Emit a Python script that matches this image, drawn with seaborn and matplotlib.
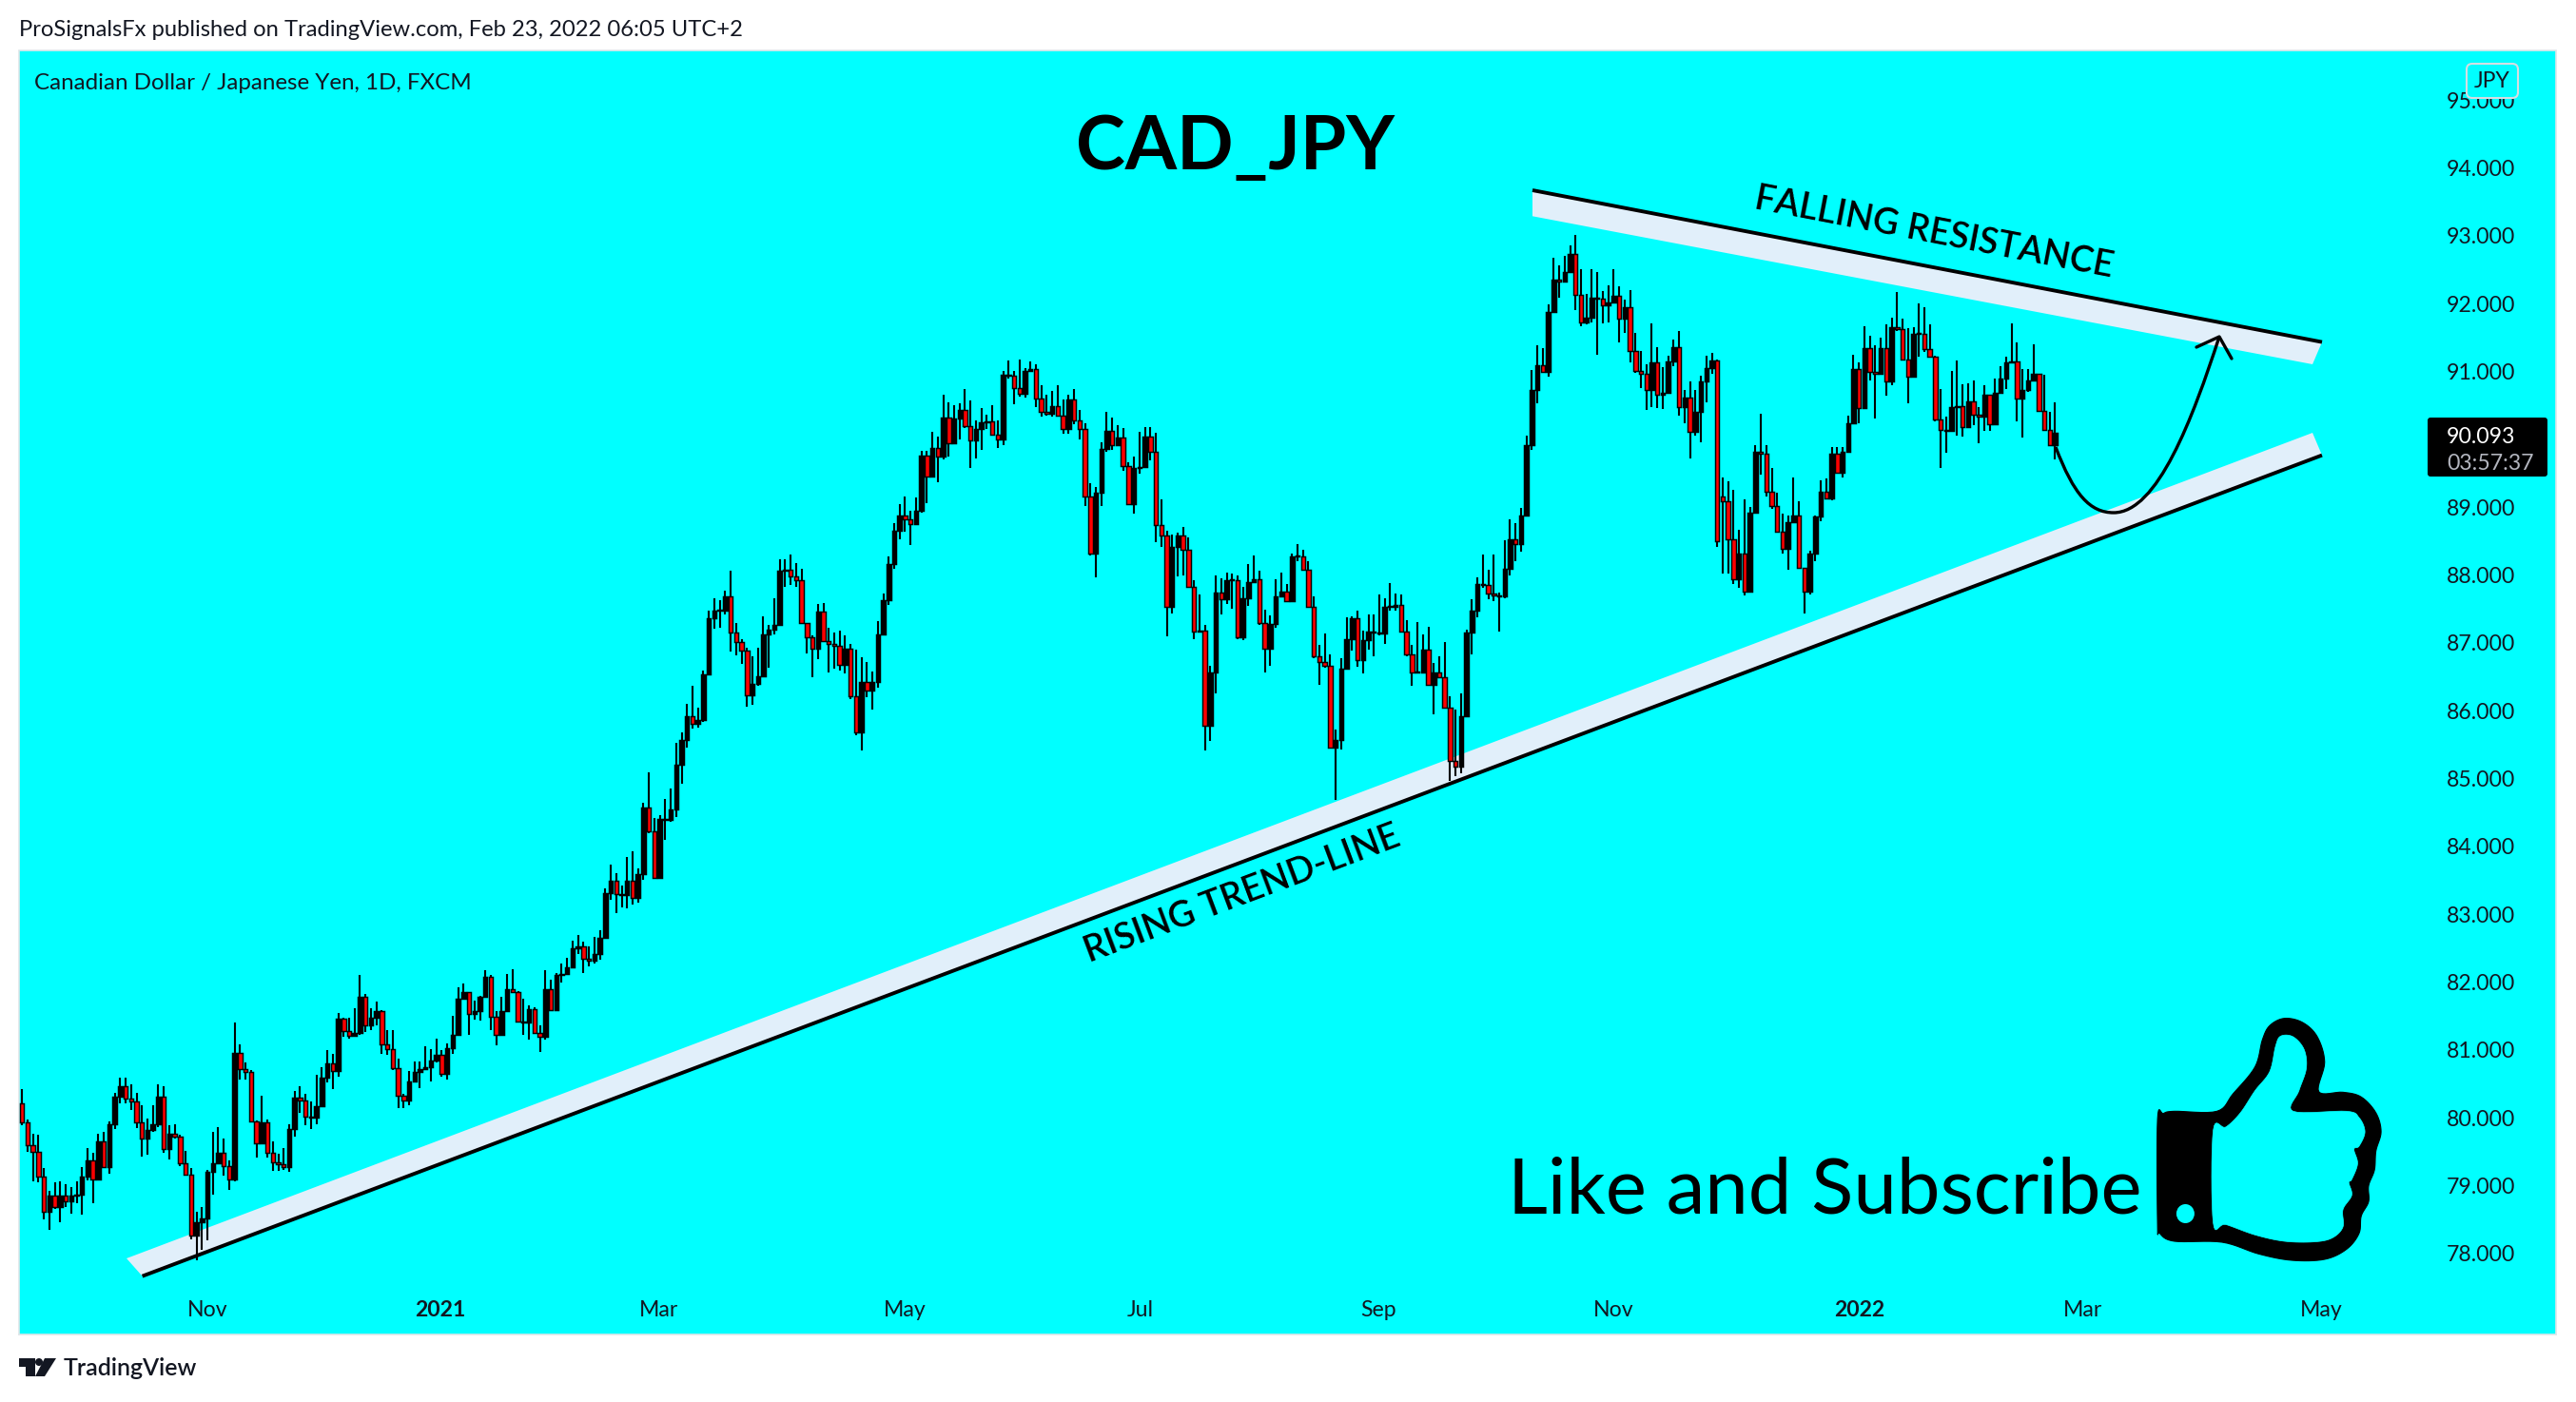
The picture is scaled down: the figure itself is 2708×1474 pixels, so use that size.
import numpy as np
import pandas as pd
import matplotlib
matplotlib.use("Agg")
import matplotlib.pyplot as plt
import seaborn as sns
from matplotlib.patches import Polygon, Ellipse, FancyBboxPatch, Circle, PathPatch
from matplotlib.path import Path
from matplotlib.transforms import Affine2D

closes = [
 79.94,79.60,79.50,79.14,78.62,78.85,78.68,78.85,78.77,78.85,
 78.87,79.13,79.37,79.09,79.66,79.28,79.90,80.31,80.47,80.29,
 80.24,79.94,79.69,79.82,79.90,80.31,79.54,79.77,79.72,79.33,
 79.17,78.27,78.46,78.52,79.20,79.33,79.48,79.29,79.09,80.96,
 80.72,80.67,79.95,79.62,79.93,79.48,79.34,79.32,79.28,79.84,
 80.30,80.26,80.02,80.01,80.17,80.59,80.80,80.69,81.46,81.28,
 81.21,81.25,81.79,81.36,81.47,81.58,81.09,81.01,80.73,80.32,
 80.25,80.53,80.68,80.72,80.75,80.84,80.93,80.65,81.03,81.22,
 81.75,81.86,81.53,81.58,81.78,82.08,81.49,81.22,81.57,81.89,
 81.86,81.42,81.41,81.60,81.25,81.20,81.90,81.59,82.11,82.12,
 82.22,82.50,
 82.53,82.35,82.32,82.41,82.65,83.31,83.50,83.30,83.29,83.50,
 83.24,83.59,84.57,84.22,83.53,84.40,84.39,84.54,85.21,85.57,
 85.92,85.80,85.86,86.53,87.36,87.47,87.48,87.69,87.15,87.01,
 86.88,86.23,86.39,86.51,87.12,87.19,87.27,88.07,88.08,87.98,
 87.92,87.29,87.08,86.91,87.46,87.02,86.98,86.95,86.68,86.92,
 86.22,85.68,86.42,86.30,86.43,87.13,87.63,88.16,88.65,
 88.87,88.82,88.75,88.95,89.76,89.45,89.87,89.74,90.32,89.94,
 90.31,90.43,90.19,89.98,90.15,90.25,90.26,90.07,90.00,90.95,
 90.93,90.75,90.67,91.00,91.04,90.60,90.40,90.38,90.49,90.35,
 90.15,90.58,90.28,90.15,89.15,88.32,89.21,89.86,90.13,89.91,
 90.02,89.61,89.04,89.58,89.59,90.04,89.82,88.73,88.58,87.53,
 88.42,88.58,88.37,87.83,87.17,87.18,85.78,86.57,87.74,87.64,
 87.92,87.92,87.08,87.65,87.89,87.93,87.29,86.91,87.28,87.69,
 87.75,87.61,88.27,88.27,88.08,87.53,86.80,86.72,86.66,85.46,
 85.57,86.62,87.06,87.36,86.75,87.04,87.16,87.15,87.14,87.53,
 87.53,87.56,87.17,86.83,86.57,86.56,86.90,86.38,86.56,86.50,
 86.04,85.26,85.18,85.92,87.15,87.47,87.86,87.85,87.73,87.70,
 87.69,88.09,88.53,88.46,88.88,
 89.92,90.73,91.09,90.99,91.87,92.35,92.33,92.46,92.73,92.13,
 91.72,91.79,92.09,92.07,91.97,92.01,92.12,91.78,91.95,91.30,
 91.00,90.97,90.72,91.13,90.65,90.69,91.14,91.36,90.47,90.62,
 90.11,90.41,90.85,91.05,91.16,88.50,89.09,88.52,87.93,88.31,
 87.76,88.92,89.81,89.79,89.22,89.02,88.64,88.38,88.78,88.88,
 88.11,87.75,88.31,88.86,89.23,89.13,89.79,89.50,89.81,90.23,
 91.03,90.46,91.34,90.99,90.97,91.34,90.85,91.65,91.62,91.17,
 90.92,91.55,91.55,91.33,91.21,90.29,90.14,90.12,90.47,90.49,
 90.18,90.56,90.36,90.33,90.65,90.22,90.69,90.89,91.13,91.15,
 90.60,90.73,90.86,90.96,90.42,90.14,89.92,90.09,
]

highs = [
 80.42,79.97,79.76,79.75,79.26,78.93,79.05,79.07,79.03,78.98,
 79.07,79.28,79.55,79.49,79.77,79.79,79.95,80.37,80.59,80.59,
 80.50,80.37,80.19,79.99,80.18,80.50,80.46,79.89,79.90,79.75,
 79.52,79.26,78.62,78.68,79.24,79.80,79.86,79.70,79.37,81.40,
 81.09,80.82,80.71,79.96,80.32,79.98,79.65,79.47,79.56,79.91,
 80.39,80.46,80.36,80.24,80.64,80.75,81.00,80.94,81.55,81.48,
 81.48,81.62,82.11,81.83,81.62,81.71,81.59,81.29,81.29,80.87,
 80.36,80.69,80.83,80.83,81.06,81.01,81.17,81.00,81.10,81.51,
 81.92,81.98,81.85,81.73,81.80,82.18,82.11,81.57,81.78,82.12,
 82.19,81.87,81.75,81.66,81.63,81.37,82.18,82.04,82.13,82.27,
 82.36,82.61,
 82.69,82.60,82.53,82.67,82.76,83.38,83.73,83.60,83.42,83.85,
 83.93,83.68,84.64,85.09,84.42,84.46,84.70,84.85,85.53,85.68,
 86.10,86.37,86.05,86.59,87.47,87.65,87.63,87.77,88.07,87.29,
 87.06,86.93,86.80,86.93,87.39,87.27,87.65,88.23,88.23,88.30,
 88.18,88.09,87.29,87.11,87.57,87.58,87.22,87.15,87.18,87.11,
 86.98,86.90,86.79,86.72,86.58,87.32,87.72,88.28,88.77,
 89.05,89.16,88.95,89.14,89.83,89.83,90.11,90.04,90.65,90.54,
 90.50,90.53,90.74,90.57,90.28,90.46,90.36,90.50,90.28,91.01,
 91.16,91.01,91.17,91.05,91.14,91.10,90.79,90.66,90.71,90.79,
 90.59,90.66,90.74,90.43,90.24,89.35,89.29,89.96,90.40,90.32,
 90.21,90.16,89.66,89.74,90.11,90.18,90.18,90.10,89.12,88.65,
 88.60,88.63,88.71,88.56,87.92,87.71,87.26,86.66,87.99,87.95,
 88.03,88.02,87.99,87.83,88.16,88.29,88.07,87.49,87.41,87.93,
 88.04,87.87,88.32,88.46,88.37,88.21,87.69,86.97,87.14,86.83,
 85.72,86.77,87.37,87.39,87.48,87.18,87.42,87.42,87.71,87.65,
 87.88,87.73,87.71,87.33,86.97,87.31,87.13,87.24,86.71,86.80,
 87.01,86.22,86.02,86.25,87.20,87.64,87.96,88.30,88.08,88.30,
 87.74,88.51,88.82,88.76,88.99,
 90.05,91.02,91.39,91.34,91.99,92.67,92.56,92.70,92.86,93.01,
 92.50,92.14,92.50,92.47,92.18,92.27,92.50,92.25,92.06,92.20,
 91.56,91.30,91.10,91.71,91.36,91.06,91.23,91.47,91.59,90.72,
 90.85,90.73,90.94,91.23,91.27,91.18,89.43,89.38,89.26,88.66,
 89.12,89.00,89.91,90.37,89.91,89.58,89.21,88.91,88.88,89.43,
 89.08,88.11,88.36,88.87,89.40,89.42,89.89,89.89,89.89,90.35,
 91.25,91.13,91.66,91.52,91.38,91.50,91.70,91.79,92.17,91.78,
 91.64,91.65,92.00,91.94,91.70,91.23,90.74,90.33,91.01,91.16,
 90.81,90.82,90.87,90.47,90.79,90.66,90.89,91.07,91.21,91.71,
 91.43,91.03,91.03,91.40,90.97,90.95,90.40,90.54,
]

lows = [
 79.89,79.50,79.06,79.05,78.51,78.35,78.66,78.46,78.68,78.59,
 78.74,78.57,79.08,78.74,79.09,79.28,79.18,79.84,80.22,80.22,
 80.12,79.85,79.43,79.46,79.79,79.86,79.49,79.39,79.70,79.29,
 79.16,78.21,77.90,78.06,78.20,78.87,79.33,79.15,78.94,79.07,
 80.57,80.57,79.93,79.41,79.61,79.42,79.22,79.22,79.23,79.21,
 79.72,80.07,79.89,79.83,79.91,80.17,80.52,80.42,80.61,81.20,
 81.17,81.20,81.22,81.26,81.30,81.36,80.95,80.93,80.71,80.14,
 80.15,80.19,80.53,80.44,80.71,80.53,80.82,80.61,80.56,80.95,
 81.21,81.74,81.23,81.45,81.44,81.77,81.29,81.07,81.22,81.56,
 81.85,81.41,81.23,81.16,81.24,80.97,81.15,81.57,81.57,81.99,
 82.12,82.22,
 82.41,82.13,82.23,82.28,82.33,82.65,83.21,83.02,83.10,83.09,
 83.15,83.17,83.51,84.19,83.52,83.59,84.10,84.37,84.43,84.92,
 85.45,85.73,85.75,85.83,86.52,87.21,87.22,87.42,86.87,86.81,
 86.69,86.06,86.09,86.37,86.50,86.63,87.13,87.26,87.83,87.85,
 87.83,87.28,86.85,86.50,86.76,87.01,86.57,86.62,86.59,86.55,
 86.17,85.64,85.42,86.20,86.01,86.34,87.11,87.56,88.09,
 88.53,88.64,88.44,88.73,88.92,89.06,89.44,89.36,89.70,89.74,
 89.93,90.00,90.17,89.58,89.72,89.85,90.15,90.07,89.87,89.91,
 90.89,90.52,90.63,90.61,91.00,90.47,90.33,90.35,90.33,90.33,
 90.08,90.08,90.22,90.00,89.02,88.29,87.96,89.02,89.82,89.84,
 89.91,89.54,89.04,88.90,89.49,89.58,89.69,88.49,88.41,87.10,
 87.43,87.98,88.00,87.83,87.06,87.15,85.42,85.55,86.26,87.42,
 87.57,87.50,87.06,87.04,87.55,87.89,87.27,86.57,86.66,87.22,
 87.69,87.60,87.61,88.21,88.07,87.52,86.78,86.38,86.64,85.45,
 84.69,85.43,86.61,86.89,86.65,86.55,86.90,86.80,87.11,86.99,
 87.48,87.48,87.16,86.80,86.37,86.55,86.56,86.37,85.95,86.48,
 86.03,84.96,85.03,85.08,85.91,86.83,87.37,87.81,87.64,87.62,
 87.17,87.66,88.00,88.21,88.35,
 88.88,89.84,90.53,90.99,90.92,91.87,92.08,92.32,92.46,91.90,
 91.66,91.69,91.72,91.25,91.71,91.72,92.04,91.43,91.56,91.13,
 90.98,90.75,90.43,90.47,90.46,90.44,90.68,91.08,90.35,90.24,
 89.71,90.06,89.96,90.54,90.96,88.41,88.02,88.02,87.87,87.81,
 87.70,87.88,88.91,89.48,89.15,88.98,88.63,88.32,88.08,88.76,
 88.10,87.43,87.71,88.20,88.79,89.13,89.10,89.49,89.43,89.80,
 90.23,90.23,90.45,90.86,90.30,90.95,90.64,90.79,91.60,91.16,
 90.53,91.00,91.22,91.28,91.20,90.27,89.57,89.80,90.12,90.05,
 90.04,90.17,90.21,89.94,90.13,90.13,90.22,90.73,90.74,91.12,
 90.27,90.02,90.70,90.85,90.40,90.12,89.90,89.70,
]

first_open = 80.21
open_gap_bar = 312
open_gap_value = 89.16

price_ticks = [78,79,80,81,82,83,84,85,86,87,88,89,90,91,92,93,94,95]
time_positions = [34.0,76.7,116.8,162.0,205.1,248.8,291.9,337.1,378.1,421.8]
time_labels = ["Nov","2021","Mar","May","Jul","Sep","Nov","2022","Mar","May"]

W, H = 2708, 1474
INK = "#131722"
FONT = "Lato"
sns.set_theme(style="white")
plt.rcParams["font.family"] = [FONT, "DejaVu Sans"]

fig = plt.figure(figsize=(W/100, H/100), dpi=100, facecolor="white")
L, R, T, B = 20, 2687, 53.5, 1403
ax = fig.add_axes([L/W, (H-B)/H, (R-L)/W, (B-T)/H])
ax.set_facecolor("#00ffff")
px = Affine2D().scale(1, -1).translate(0, H)   # reference pixel coordinates

opens = [first_open] + closes[:-1]
opens[open_gap_bar] = open_gap_value
df = pd.DataFrame({"bar": np.arange(len(closes)), "open": opens, "close": closes,
                   "high": highs, "low": lows})
df["bottom"] = df[["open", "close"]].min(axis=1)
df["height"] = (df["open"] - df["close"]).abs().clip(lower=0.012)

# drawn bands behind candles
ax.add_patch(Polygon([(133,1323),(149.6,1341.7),(2441,478.6),(2431,455)], closed=True,
                     transform=px, fc="#e1effa", ec="none", zorder=1, clip_on=False))
ax.add_patch(Polygon([(1611,200),(2441,359.6),(2431,383),(1611,227.3)], closed=True,
                     transform=px, fc="#e1effa", ec="none", zorder=1, clip_on=False))
sns.lineplot(x=[149.6,2441], y=[1341.7,478.6], transform=px, color="black", lw=2.8, zorder=1.5,
             ax=ax, estimator=None, sort=False, solid_capstyle="butt")
sns.lineplot(x=[1611,2441], y=[200,359.6], transform=px, color="black", lw=2.8, zorder=1.5,
             ax=ax, estimator=None, sort=False, solid_capstyle="butt")

ax.vlines(df["bar"], df["low"], df["high"], color="black", lw=1.5, zorder=2)
for sub, col in ((df[df["close"] >= df["open"]], "black"), (df[df["close"] < df["open"]], "#ff0000")):
    sns.barplot(data=sub, x="bar", y="height", bottom=sub["bottom"].values, native_scale=True,
                color=col, saturation=1, width=0.78, errorbar=None, edgecolor="black",
                linewidth=1.05, zorder=3, ax=ax)

ax.set_xlim((L-23.2)/5.73, (R-23.2)/5.73)
ax.set_ylim(78-(B-1318)/71.35, 78+(1318-T)/71.35)
ax.set_xlabel(""); ax.set_ylabel("")
ax.grid(False)

ax.yaxis.tick_right()
ax.set_yticks(price_ticks)
ax.set_yticklabels([f"{v:.3f}" for v in price_ticks], fontsize=16.6, color=INK, ha="left")
ax.tick_params(axis="y", length=0, pad=-82.8)
ax.set_xticks(time_positions)
ax.set_xticklabels(time_labels, fontsize=16.6, color=INK)
for lab in ax.get_xticklabels():
    if lab.get_text().isdigit():
        lab.set_fontweight("bold")
ax.tick_params(axis="x", length=0, pad=-25.6)
for s in ax.spines.values():
    s.set_color("#dfe6e9"); s.set_linewidth(1.2)

def txt(x, y, s, **kw):
    kw.setdefault("color", "black")
    kw.setdefault("va", "center")
    kw.setdefault("ha", "left")
    return ax.text(x, y, s, transform=px, clip_on=False, zorder=12, **kw)

# header, footer, legend line
txt(20, 32, "ProSignalsFx published on TradingView.com, Feb 23, 2022 06:05 UTC+2", fontsize=17.1, color=INK)
txt(36, 87, "Canadian Dollar / Japanese Yen, 1D, FXCM", fontsize=17.4, color=INK)
txt(67, 1439, "TradingView", fontsize=18, color=INK, fontweight="semibold")
ax.add_patch(Polygon([(20,1428),(36.6,1428),(36.6,1447),(27,1447),(27,1436.7),(20,1436.7)], closed=True,
                     transform=px, fc=INK, ec="none", clip_on=False))
ax.add_patch(Circle((41,1432), 4, transform=px, fc=INK, ec="none", clip_on=False))
ax.add_patch(Polygon([(47,1428),(59,1428),(47,1447),(37,1447)], closed=True,
                     transform=px, fc=INK, ec="none", clip_on=False))

# annotations
txt(1298, 156, "CAD_JPY", fontsize=56.3, fontweight="bold", ha="center")
txt(2033, 245, "FALLING RESISTANCE", fontsize=27, fontweight="semibold", ha="center",
    rotation=-10.9, rotation_mode="anchor")
txt(1306, 940, "RISING TREND-LINE", fontsize=27, fontweight="semibold", ha="center",
    rotation=20.6, rotation_mode="anchor")
txt(1585, 1253, "Like and Subscribe", fontsize=58.7, va="center")

# forecast curve
verts = [(2161,470),(2180,520),(2197,539),(2222,539),(2268,539),(2305,440),(2333,354)]
codes = [Path.MOVETO, Path.CURVE4, Path.CURVE4, Path.CURVE4, Path.CURVE4, Path.CURVE4, Path.CURVE4]
ax.add_patch(PathPatch(Path(verts, codes), transform=px, fc="none", ec="black", lw=2.4, zorder=6, clip_on=False))
sns.lineplot(x=[2309,2333,2346], y=[365,354,377], transform=px, color="black", lw=2.4, zorder=6,
             ax=ax, estimator=None, sort=False)

# thumb icon
def smooth(pts):
    P = np.array(pts, float)
    out = []
    n = len(P)
    for i in range(n):
        p0, p1, p2, p3 = P[i-1], P[i], P[(i+1) % n], P[(i+2) % n]
        for t in np.linspace(0, 1, 8, endpoint=False):
            out.append(0.5*((2*p1) + (-p0+p2)*t + (2*p0-5*p1+4*p2-p3)*t**2 + (-p0+3*p1-3*p2+p3)*t**3))
    return np.array(out)
def tz(pts):
    S = smooth(pts)
    return np.column_stack([1500+S[:, 0]/1.298, 1000+S[:, 1]/3])
outer = [(1020,505),(1078,505),(1100,450),(1130,365),(1140,280),(1150,235),(1170,212),(1195,225),(1215,270),
         (1225,350),(1217,443),(1250,445),(1275,460),(1295,510),(1302,570),(1295,630),(1293,690),(1285,740),
         (1285,790),(1275,835),(1272,890),(1255,940),(1225,972),(1180,975),(1135,955),(1085,918),(1020,915),
         (1000,890),(997,860),(997,530),(1005,512)]
inner = [(1073,565),(1090,555),(1110,510),(1130,440),(1150,380),(1158,300),(1165,268),(1182,270),(1197,310),
         (1200,370),(1190,440),(1182,505),(1255,505),(1272,525),(1280,570),(1272,615),(1265,625),(1270,670),
         (1262,720),(1258,730),(1262,770),(1250,815),(1250,870),(1235,905),(1210,917),(1170,915),(1130,895),
         (1090,862),(1073,857)]
ax.add_patch(Polygon(tz(outer), closed=True, transform=px, fc="black", ec="black", lw=0.8, joinstyle="round", zorder=7))
ax.add_patch(Polygon(tz(inner), closed=True, transform=px, fc="#00ffff", ec="#00ffff", lw=0.5, joinstyle="round", zorder=8))
ax.add_patch(Ellipse((1500+1035/1.298, 1000+828/3), 19, 20, transform=px, fc="#00ffff", ec="none", zorder=8))

# price label and currency badge
ax.add_patch(FancyBboxPatch((2552,439),126,62, boxstyle="round,pad=0,rounding_size=3", transform=px,
                            fc="black", ec="none", zorder=10, clip_on=False))
txt(2572, 459, "90.093", fontsize=16.6, color="white")
txt(2572, 487, "03:57:37", fontsize=16.6, color="#b2b5be")
ax.add_patch(FancyBboxPatch((2593,67),54,36, boxstyle="round,pad=0,rounding_size=6", transform=px,
                            fc="#00ffff", ec="#d6dde2", lw=1.5, zorder=10, clip_on=False))
txt(2620, 86, "JPY", fontsize=16.6, color=INK, ha="center")

fig.savefig("out.png", dpi=100, facecolor="white")
